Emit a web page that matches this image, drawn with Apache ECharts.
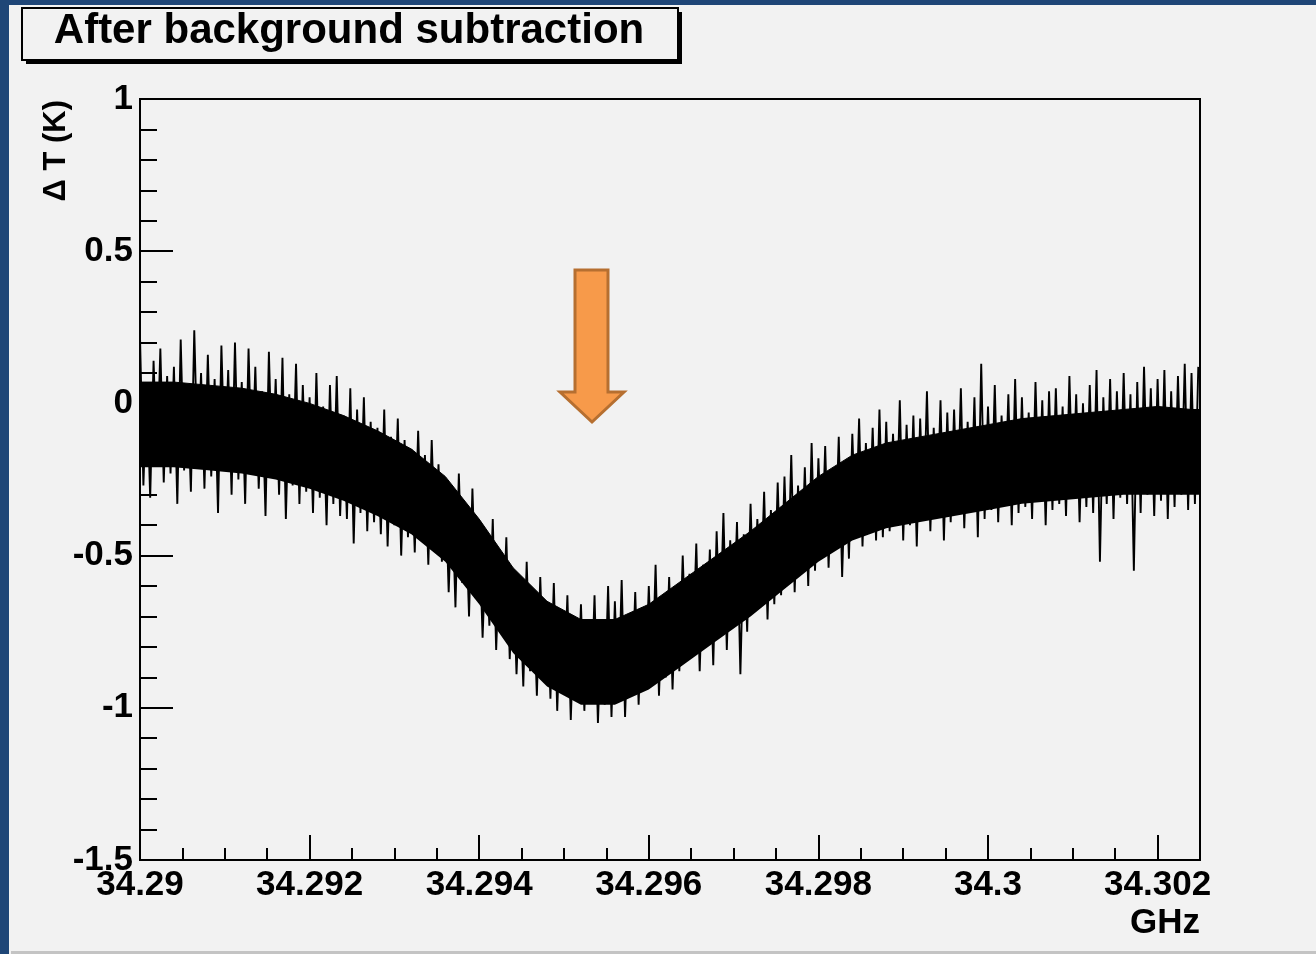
<!DOCTYPE html>
<html>
<head>
<meta charset="utf-8">
<script src="https://cdn.jsdelivr.net/npm/echarts@6/dist/echarts.min.js"></script>
<style>
html,body{margin:0;padding:0;background:#f2f2f2;}
#chart{width:1316px;height:954px;}
</style>
</head>
<body>
<div id="chart"></div>
<script>
// Histogram binning (GHz)
const binStart = 34.29;
const binWidth = 0.00004;
// Noisy ΔT (K) per bin
const deltaT = [
 0.22,-0.27,0.07,-0.31,0.14,-0.20,0.18,-0.26,0.09,-0.23,
 0.12,-0.33,0.21,-0.22,0.05,-0.29,0.24,-0.19,0.10,-0.28,
 0.16,-0.24,0.08,-0.36,0.19,-0.21,0.11,-0.30,0.20,-0.25,
 0.07,-0.33,0.18,-0.23,0.12,-0.28,0.04,-0.37,0.17,-0.24,
 0.08,-0.30,0.15,-0.38,0.03,-0.27,0.13,-0.33,0.06,-0.29,
 0.02,-0.36,0.10,-0.31,-0.01,-0.40,0.06,-0.33,0.09,-0.37,
 -0.04,-0.38,0.05,-0.46,-0.02,-0.36,0.02,-0.42,-0.06,-0.39,
 -0.08,-0.43,-0.02,-0.47,-0.11,-0.40,-0.05,-0.50,-0.12,-0.44,
 -0.15,-0.49,-0.09,-0.45,-0.17,-0.53,-0.12,-0.47,-0.20,-0.52,
 -0.25,-0.62,-0.30,-0.67,-0.23,-0.59,-0.34,-0.70,-0.28,-0.64,
 -0.41,-0.77,-0.46,-0.73,-0.38,-0.81,-0.50,-0.75,-0.44,-0.84,
 -0.55,-0.89,-0.60,-0.93,-0.52,-0.88,-0.63,-0.96,-0.57,-0.91,
 -0.65,-0.97,-0.59,-1.01,-0.68,-0.95,-0.63,-1.04,-0.71,-0.98,
 -0.66,-1.01,-0.71,-0.97,-0.63,-1.05,-0.74,-0.99,-0.60,-1.03,
 -0.65,-0.98,-0.58,-1.03,-0.70,-0.95,-0.62,-0.99,-0.67,-0.93,
 -0.60,-0.92,-0.53,-0.96,-0.64,-0.90,-0.57,-0.94,-0.61,-0.88,
 -0.50,-0.84,-0.56,-0.81,-0.46,-0.88,-0.53,-0.80,-0.48,-0.86,
 -0.42,-0.76,-0.36,-0.81,-0.45,-0.73,-0.39,-0.89,-0.43,-0.75,
 -0.33,-0.68,-0.38,-0.64,-0.29,-0.71,-0.35,-0.66,-0.26,-0.63,
 -0.24,-0.59,-0.17,-0.62,-0.27,-0.56,-0.21,-0.60,-0.13,-0.55,
 -0.18,-0.50,-0.14,-0.54,-0.22,-0.48,-0.11,-0.57,-0.19,-0.51,
 -0.10,-0.43,-0.05,-0.47,-0.13,-0.41,-0.08,-0.45,-0.02,-0.44,
 -0.06,-0.42,-0.10,-0.39,0.01,-0.45,-0.07,-0.40,-0.04,-0.47,
 -0.05,-0.38,0.04,-0.42,-0.08,-0.37,0.01,-0.45,-0.03,-0.39,
 -0.02,-0.36,0.05,-0.41,-0.06,-0.35,0.02,-0.44,0.13,-0.38,
 -0.01,-0.35,0.06,-0.39,-0.04,-0.33,0.03,-0.40,0.08,-0.36,
 0.02,-0.34,-0.03,-0.38,0.07,-0.32,0.01,-0.40,0.04,-0.35,
 0.05,-0.33,-0.01,-0.37,0.09,-0.31,0.03,-0.39,0.00,-0.34,
 0.06,-0.36,0.11,-0.52,0.02,-0.33,0.08,-0.38,0.04,-0.31,
 0.10,-0.33,0.03,-0.55,0.07,-0.36,0.12,-0.30,0.05,-0.37,
 0.08,-0.32,0.11,-0.38,0.04,-0.34,0.09,-0.30,0.13,-0.35,
 0.10,-0.33,0.12
];
// Dense core of the band, sampled every 10 bins
const coreStride = 10;
const coreHigh = [0.07,0.07,0.06,0.05,0.03,0.00,-0.04,-0.09,-0.15,-0.24,-0.38,-0.54,-0.65,-0.71,-0.71,-0.66,-0.58,-0.50,-0.42,-0.33,-0.24,-0.17,-0.13,-0.11,-0.09,-0.07,-0.05,-0.04,-0.03,-0.02,-0.01,-0.02,-0.02];
const coreLow  = [-0.21,-0.21,-0.22,-0.23,-0.25,-0.28,-0.32,-0.37,-0.43,-0.52,-0.66,-0.82,-0.93,-0.99,-0.99,-0.94,-0.86,-0.78,-0.70,-0.61,-0.52,-0.45,-0.41,-0.39,-0.37,-0.35,-0.33,-0.32,-0.31,-0.30,-0.30,-0.30,-0.30];
// Axes
const xMin = 34.29, xMax = 34.3025, xStep = 0.002;
const yMin = -1.5, yMax = 1, yStep = 0.5;
const titleText = 'After background subtraction';
const yTitle = 'Δ T (K)';
const xTitle = 'GHz';

const noiseData = deltaT.map((v, i) => [binStart + i * binWidth, v]);
// value first so that the stack runs on ΔT, frequency second
const coreLowData = coreLow.map((v, k) => [v, binStart + k * coreStride * binWidth]);
const coreThick = coreHigh.map((v, k) => [v - coreLow[k], binStart + k * coreStride * binWidth]);

const FONT = "'Liberation Sans', Arial, sans-serif";
const chart = echarts.init(document.getElementById('chart'), null, {renderer: 'canvas'});
chart.setOption({
  backgroundColor: '#f2f2f2',
  animation: false,
  grid: {left: 140, top: 99, right: 116, bottom: 94, show: true, borderColor: '#000', borderWidth: 2, backgroundColor: '#f2f2f2'},
  xAxis: {
    type: 'value', min: xMin, max: xMax, interval: xStep,
    axisLine: {show: true, onZero: false, lineStyle: {color: '#000', width: 2}},
    axisTick: {show: true, inside: true, length: 25, lineStyle: {color: '#000', width: 2}},
    minorTick: {show: true, splitNumber: 4, length: 12, lineStyle: {color: '#000', width: 2}},
    splitLine: {show: false},
    axisLabel: {show: true, color: '#000', fontFamily: FONT, fontWeight: 'bold', fontSize: 35, margin: 8, showMaxLabel: false, showMinLabel: true,
      formatter: v => String(+v.toFixed(4))}
  },
  yAxis: {
    type: 'value', min: yMin, max: yMax, interval: yStep,
    axisLine: {show: true, onZero: false, lineStyle: {color: '#000', width: 2}},
    axisTick: {show: true, inside: true, length: 33, lineStyle: {color: '#000', width: 2}},
    minorTick: {show: true, splitNumber: 5, length: 17, lineStyle: {color: '#000', width: 2}},
    splitLine: {show: false},
    axisLabel: {show: true, color: '#000', fontFamily: FONT, fontWeight: 'bold', fontSize: 35, margin: 7, showMaxLabel: true, showMinLabel: true,
      formatter: v => String(+v.toFixed(2))}
  },
  series: [
    {type: 'line', data: coreLowData, encode: {x: 1, y: 0}, stack: 'core', stackStrategy: 'all', symbol: 'none', lineStyle: {opacity: 0}, silent: true, clip: true, z: 1},
    {type: 'line', data: coreThick, encode: {x: 1, y: 0}, stack: 'core', stackStrategy: 'all', symbol: 'none', lineStyle: {color: '#000', width: 1}, areaStyle: {color: '#000', opacity: 1}, silent: true, clip: true, z: 1},
    {type: 'line', data: noiseData, symbol: 'none', lineStyle: {color: '#000', width: 1.9, join: 'miter'}, silent: true, clip: true, z: 2}
  ],
  graphic: [
    {type: 'rect', left: 0, top: 0, shape: {width: 9, height: 954}, style: {fill: '#1f4677'}, z: 100},
    {type: 'rect', left: 0, top: 0, shape: {width: 1316, height: 5}, style: {fill: '#1f4677'}, z: 100},
    {type: 'rect', left: 11, top: 951, shape: {width: 1305, height: 3}, style: {fill: '#c4c4c4'}, z: 100},
    {type: 'rect', x: 26, y: 12, shape: {width: 656, height: 52}, style: {fill: '#000'}, z: 100},
    {type: 'rect', x: 22, y: 8, shape: {width: 656, height: 52}, style: {fill: '#f2f2f2', stroke: '#000', lineWidth: 2}, z: 101},
    {type: 'text', x: 349, y: 31, style: {text: titleText, font: "bold 42px " + FONT, fill: '#000', align: 'center', verticalAlign: 'middle'}, z: 102},
    {type: 'text', x: 56, y: 100, rotation: Math.PI / 2, style: {text: yTitle, font: "bold 31px " + FONT, fill: '#000', align: 'right', verticalAlign: 'middle'}, z: 102},
    {type: 'text', x: 1200, y: 923, style: {text: xTitle, font: "bold 35px " + FONT, fill: '#000', align: 'right', verticalAlign: 'middle'}, z: 102},
    {type: 'polygon', shape: {points: [[575,270],[608,270],[608,392],[624,392],[592,422],[560,392],[575,392]]},
      style: {fill: '#f79a4a', stroke: '#b66f30', lineWidth: 3}, z: 103}
  ]
});
</script>
</body>
</html>
